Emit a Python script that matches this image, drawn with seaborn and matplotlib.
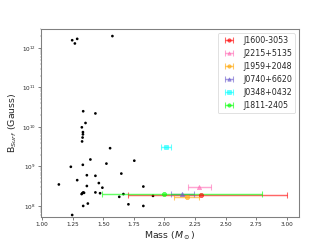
import matplotlib
matplotlib.use("Agg")
import matplotlib.pyplot as plt
import numpy as np
import pandas as pd
import seaborn as sns

# pulsar population (black dots)
pop_mass = [1.245, 1.267, 1.286, 1.574, 1.335, 1.435, 1.354, 1.324, 1.333, 1.333,
            1.330, 1.326, 1.555, 1.394, 1.525, 1.332, 1.234, 1.365, 1.435, 1.286,
            1.463, 1.136, 1.365, 1.492, 1.335, 1.328, 1.342, 1.322, 1.435, 1.473,
            1.373, 1.335, 1.630, 1.245, 1.753, 1.647, 1.827, 1.664, 1.705, 1.827,
            1.906]
pop_bsurf = [1.57e12, 1.3e12, 1.7e12, 2.0e12, 2.5e10, 2.2e10, 1.26e10, 9.8e9, 7.4e9, 6.5e9,
             5.4e9, 4.3e9, 2.9e9, 1.5e9, 1.18e9, 1.1e9, 9.8e8, 6.0e8, 5.8e8, 4.5e8,
             3.8e8, 3.5e8, 3.2e8, 2.9e8, 2.2e8, 2.1e8, 2.15e8, 2.0e8, 2.2e8, 2.1e8,
             1.15e8, 1.0e8, 1.7e8, 5.9e7, 1.4e9, 6.6e8, 3.1e8, 2.0e8, 1.1e8, 1.0e8,
             1.8e8]

# highlighted pulsars
names = ["J1600-3053", "J2215+5135", "J1959+2048", "J0740+6620", "J0348+0432", "J1811-2405"]
masses = [2.30, 2.28, 2.18, 2.14, 2.01, 2.00]
mass_lo = [0.60, 0.09, 0.10, 0.09, 0.04, 0.51]
mass_hi = [0.70, 0.10, 0.10, 0.10, 0.04, 0.80]
bsurf = [1.87e8, 2.95e8, 1.72e8, 1.95e8, 3.1e9, 1.95e8]
colors = ["red", "hotpink", "orange", "slateblue", "cyan", "lime"]
markers = ["o", "^", "o", "^", "s", "o"]

pop = pd.DataFrame({"mass": pop_mass, "bsurf": pop_bsurf})

sns.set_style("ticks")
fig, ax = plt.subplots(figsize=(6.4, 4.8), dpi=51.875)
fig.subplots_adjust(left=0.1235, right=0.9006, top=0.8835, bottom=0.1285)

sns.scatterplot(data=pop, x="mass", y="bsurf", color="black", s=14,
                edgecolor="none", ax=ax, zorder=2)

for n, m, lo, hi, b, c, mk in zip(names, masses, mass_lo, mass_hi, bsurf, colors, markers):
    ax.errorbar(m, b, xerr=[[lo], [hi]], fmt=mk, color=c, ms=6, lw=2,
                capsize=4, capthick=1.5, alpha=0.6, label=n, zorder=3)

ax.set_yscale("log")
ax.set_xlim(0.99, 3.1)
ax.set_ylim(10 ** 7.72, 10 ** 12.48)
ax.set_xticks([1.0, 1.25, 1.5, 1.75, 2.0, 2.25, 2.5, 2.75, 3.0])
ax.tick_params(labelsize=8)
ax.tick_params(axis="y", which="minor", length=2, color="0.4")
ax.set_xlabel(r"Mass ($M_\odot$)", fontsize=13)
ax.set_ylabel(r"B$_{Surf}$ (Gauss)", fontsize=13)
for sp in ax.spines.values():
    sp.set_color("0.5")
    sp.set_linewidth(1.5)

ax.legend(loc="upper right", fontsize=11, frameon=True, markerscale=0.8)

fig.savefig("out.png", dpi=51.875)
